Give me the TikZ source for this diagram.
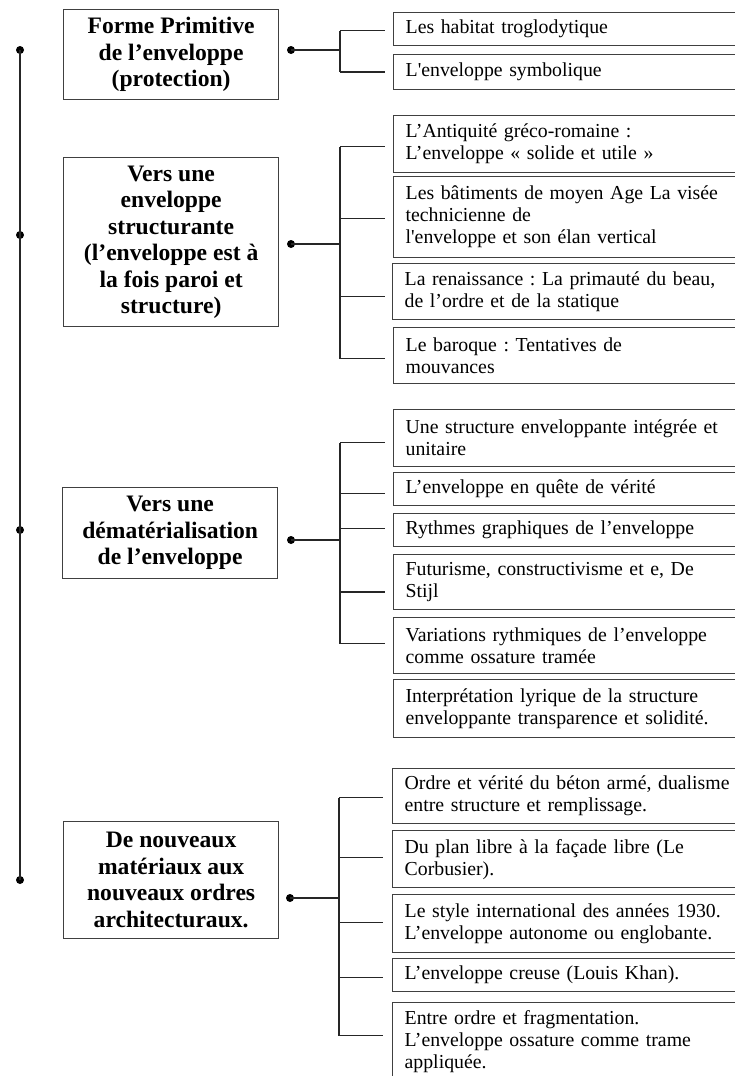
\documentclass[tikz,border=0pt]{standalone}
\usepackage{fontspec}
\setmainfont{Liberation Serif}
\frenchspacing
\tikzset{
  link/.style={line width=1.4pt, draw=black!85},
  headbox/.style={draw=black!75, line width=1.3pt, minimum width=215pt, inner sep=0pt,
    align=center, anchor=north west, font=\fontsize{23.6}{26.5}\selectfont\bfseries},
  itembox/.style={draw=black!75, line width=1.3pt, text width=345pt, inner xsep=12pt,
    inner ysep=0pt, align=left, anchor=north west, font=\fontsize{19.8}{22}\selectfont},
  dotn/.style={circle, fill=black, inner sep=0pt, minimum size=8pt},
}
\begin{document}
\begin{tikzpicture}[x=1pt,y=-1pt]
\useasboundingbox (0,0) rectangle (735,1076);
\clip (0,0) rectangle (735,1076);

% main themes
\node[headbox, minimum height=90pt]  (h1) at (63,9)   {Forme Primitive\\de l’enveloppe\\(protection)};
\node[headbox, minimum height=169pt] (h2) at (63,157) {Vers une\\enveloppe\\structurante\\(l’enveloppe est à\\la fois paroi et\\structure)};
\node[headbox, minimum height=91pt]  (h3) at (62,487) {Vers une\\dématérialisation\\de l’enveloppe};
\node[headbox, minimum height=117pt] (h4) at (63,821) {De nouveaux\\matériaux aux\\nouveaux ordres\\architecturaux.};

% sub-items of the first theme
\node[itembox, minimum height=33pt] (a1) at (393,12) {Les habitat troglodytique};
\node[itembox, minimum height=35pt] (a2) at (393,54) {L\textquotesingle enveloppe symbolique};

% sub-items of the second theme
\node[itembox, minimum height=57pt] (b1) at (393,115) {L’Antiquité gréco-romaine :\\L’enveloppe « solide et utile »};
\node[itembox, minimum height=81pt] (b2) at (393,176) {Les bâtiments de moyen Age La visée\\technicienne de\\l\textquotesingle enveloppe et son élan vertical};
\node[itembox, minimum height=56pt] (b3) at (392,263) {La renaissance : La primauté du beau,\\de l’ordre et de la statique};
\node[itembox, minimum height=56pt] (b4) at (393,327) {Le baroque : Tentatives de\\mouvances};

% sub-items of the third theme
\node[itembox, minimum height=57pt] (c1) at (393,409) {Une structure enveloppante intégrée et\\unitaire};
\node[itembox, minimum height=33pt] (c2) at (393,472) {L’enveloppe en quête de vérité};
\node[itembox, minimum height=33pt] (c3) at (393,513) {Rythmes graphiques de l’enveloppe};
\node[itembox, minimum height=55pt] (c4) at (393,554) {Futurisme, constructivisme et e, De\\Stijl};
\node[itembox, minimum height=56pt] (c5) at (393,617) {Variations rythmiques de l’enveloppe\\comme ossature tramée};
\node[itembox, minimum height=58pt] (c6) at (393,679) {Interprétation lyrique de la structure\\enveloppante transparence et solidité.};

% sub-items of the fourth theme
\node[itembox, minimum height=55pt] (e1) at (392,768) {Ordre et vérité du béton armé, dualisme\\entre structure et remplissage.};
\node[itembox, minimum height=57pt] (e2) at (392,830) {Du plan libre à la façade libre (Le\\Corbusier).};
\node[itembox, minimum height=58pt] (e3) at (392,894) {Le style international des années 1930.\\L’enveloppe autonome ou englobante.};
\node[itembox, minimum height=33pt] (e4) at (392,958) {L’enveloppe creuse (Louis Khan).};
\node[itembox, minimum height=78pt] (e5) at (392,1002) {Entre ordre et fragmentation.\\L’enveloppe ossature comme trame\\appliquée.};

% spine on the left
\node[dotn] (s1) at (20,50)  {};
\node[dotn] (s2) at (20,235) {};
\node[dotn] (s3) at (20,530) {};
\node[dotn] (s4) at (20,880) {};
\draw[link] (s1.center) -- (s4.center);

% dots on the theme boxes and bracket joints
\node[dotn] (d1) at (291,50)  {};
\node[dotn] (d2) at (291,244) {};
\node[dotn] (d3) at (291,540) {};
\node[dotn] (d4) at (290,898) {};
\coordinate (k1) at (340,50);
\coordinate (k2) at (340,244);
\coordinate (k3) at (340,540);
\coordinate (k4) at (339,898);

% branch end points
\coordinate (pa1) at ([xshift=-8pt,yshift=-1.5pt]a1.west);
\coordinate (pa2) at ([xshift=-8pt]a2.west);
\coordinate (pb1) at ([xshift=-8pt,yshift=-2.5pt]b1.west);
\coordinate (pb2) at ([xshift=-8pt,yshift=-1.5pt]b2.west);
\coordinate (pb3) at ([xshift=-7pt,yshift=-5pt]b3.west);
\coordinate (pb4) at ([xshift=-8pt,yshift=-3pt]b4.west);
\coordinate (pc1) at ([xshift=-8pt,yshift=-4.5pt]c1.west);
\coordinate (pc2) at ([xshift=-8pt,yshift=-4.5pt]c2.west);
\coordinate (pc3) at ([xshift=-8pt,yshift=1.5pt]c3.west);
\coordinate (pc4) at ([xshift=-8pt,yshift=-10pt]c4.west);
\coordinate (pc5) at ([xshift=-8pt,yshift=2pt]c5.west);
\coordinate (pe1) at ([xshift=-9pt,yshift=-1.5pt]e1.west);
\coordinate (pe2) at ([xshift=-9pt,yshift=1.5pt]e2.west);
\coordinate (pe3) at ([xshift=-9pt,yshift=1pt]e3.west);
\coordinate (pe4) at ([xshift=-9pt,yshift=-2.5pt]e4.west);
\coordinate (pe5) at ([xshift=-9pt,yshift=6pt]e5.west);

% brackets
\draw[link] (d1.center) -- (k1);
\draw[link] (k1 |- pa1) -- (k1 |- pa2);
\foreach \p in {pa1,pa2} \draw[link] (k1 |- \p) -- (\p);

\draw[link] (d2.center) -- (k2);
\draw[link] (k2 |- pb1) -- (k2 |- pb4);
\foreach \p in {pb1,pb2,pb3,pb4} \draw[link] (k2 |- \p) -- (\p);

\draw[link] (d3.center) -- (k3);
\draw[link] (k3 |- pc1) -- (k3 |- pc5);
\foreach \p in {pc1,pc2,pc3,pc4,pc5} \draw[link] (k3 |- \p) -- (\p);

\draw[link] (d4.center) -- (k4);
\draw[link] (k4 |- pe1) -- (k4 |- pe5);
\foreach \p in {pe1,pe2,pe3,pe4,pe5} \draw[link] (k4 |- \p) -- (\p);
\end{tikzpicture}
\end{document}
